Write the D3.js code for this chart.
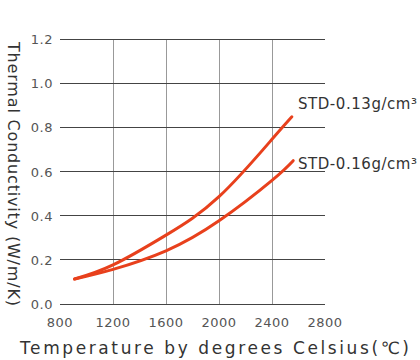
<!DOCTYPE html>
<html><head><meta charset="utf-8">
<script src="https://cdn.jsdelivr.net/npm/d3@7"></script>
<style>body{margin:0;background:#fff}svg{display:block}text{font-family:"DejaVu Sans",Roboto,sans-serif}</style>
</head><body>
<script>
const temps = [910, 1200, 1600, 2000, 2400, 2550];
const std013 = [0.113, 0.177, 0.312, 0.486, 0.746, 0.848];
const temps016 = [910, 1200, 1600, 2000, 2400, 2560];
const std016 = [0.113, 0.157, 0.241, 0.377, 0.56, 0.649];
const xTicks = [800, 1200, 1600, 2000, 2400, 2800];
const yTicks = [0, 0.2, 0.4, 0.6, 0.8, 1.0, 1.2];
const seriesNames = ["STD-0.13g/cm³", "STD-0.16g/cm³"];

const W = 420, H = 360;
const svg = d3.select("body").append("svg").attr("width", W).attr("height", H);
const x = d3.scaleLinear().domain([800, 2800]).range([60, 325]);
const y = d3.scaleLinear().domain([0, 1.2]).range([304, 39]);

svg.append("g").selectAll("line").data(xTicks.filter(t => t > 800 && t < 2800)).join("line")
  .attr("x1", d => x(d)).attr("x2", d => x(d)).attr("y1", y(1.2)).attr("y2", y(0))
  .attr("stroke", "#999").attr("stroke-width", 1).attr("shape-rendering", "crispEdges");
svg.append("g").selectAll("line").data(yTicks).join("line")
  .attr("x1", 60).attr("x2", 325).attr("y1", d => y(d)).attr("y2", d => y(d))
  .attr("stroke", "#444").attr("stroke-width", 1).attr("shape-rendering", "crispEdges");

svg.append("g").selectAll("text").data(yTicks).join("text")
  .attr("x", 53).attr("y", d => y(d) + 5).attr("text-anchor", "end")
  .attr("font-size", 13).attr("fill", "#555").attr("letter-spacing", 0.5)
  .attr("font-family", "'DejaVu Sans Condensed',sans-serif").text(d => d.toFixed(1));
svg.append("g").selectAll("text").data(xTicks).join("text")
  .attr("x", d => x(d)).attr("y", 327).attr("text-anchor", "middle")
  .attr("font-size", 13).attr("fill", "#555").attr("letter-spacing", 0.5)
  .attr("font-family", "'DejaVu Sans Condensed',sans-serif").text(d => d);

const line = d3.line().x(d => x(d[0])).y(d => y(d[1])).curve(d3.curveNatural);
const s1 = temps.map((t, i) => [t, std013[i]]);
const s2 = temps016.map((t, i) => [t, std016[i]]);
[s1, s2].forEach(s => svg.append("path").datum(s).attr("d", line)
  .attr("fill", "none").attr("stroke", "#e8401c").attr("stroke-width", 3).attr("stroke-linecap", "round"));

const lg = { "font-size": 15, fill: "#333" };
svg.append("text").attr("x", 298).attr("y", 109).attr("font-size", 15).attr("fill", "#333")
  .attr("font-family", "'DejaVu Sans Condensed',sans-serif").attr("textLength", 119).attr("lengthAdjust", "spacing").text(seriesNames[0]);
svg.append("text").attr("x", 298).attr("y", 169).attr("font-size", 15).attr("fill", "#333")
  .attr("font-family", "'DejaVu Sans Condensed',sans-serif").attr("textLength", 119).attr("lengthAdjust", "spacing").text(seriesNames[1]);

svg.append("text").attr("transform", "translate(8,42) rotate(90)")
  .attr("font-size", 16).attr("fill", "#333").attr("font-family", "'DejaVu Sans Condensed',sans-serif")
  .attr("textLength", 264).attr("lengthAdjust", "spacing")
  .text("Thermal Conductivity (W/m/K)");
svg.append("text").attr("x", 20).attr("y", 354)
  .attr("font-size", 17).attr("fill", "#333").attr("font-family", "'DejaVu Sans Condensed',sans-serif")
  .attr("textLength", 389).attr("lengthAdjust", "spacing")
  .text("Temperature by degrees Celsius(℃)");
</script>
</body></html>
